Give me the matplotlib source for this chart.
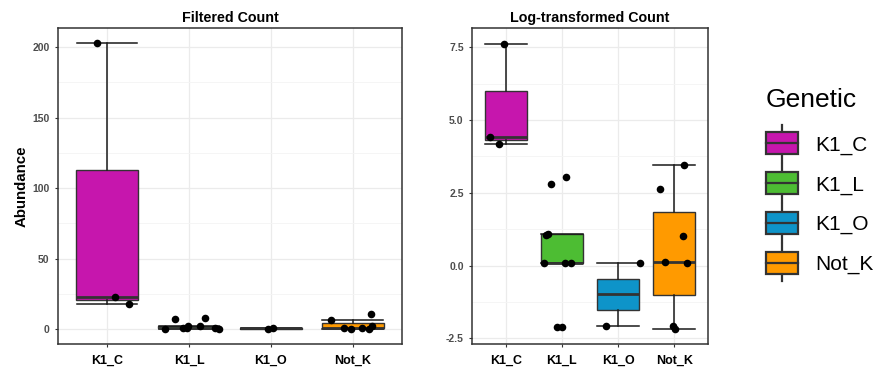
import numpy as np
import matplotlib.pyplot as plt
from matplotlib.patches import Rectangle
from matplotlib.lines import Line2D
from matplotlib.legend_handler import HandlerBase

plt.rcParams['font.family'] = ['Liberation Sans', 'DejaVu Sans']

groups = ['K1_C', 'K1_L', 'K1_O', 'Not_K']
colors = ['#C616AD', '#4DBD33', '#0E94C9', '#FF9A00']

# raw (filtered) abundance per group
raw_counts = {
    'K1_C': [203.0, 22.5, 18.2],
    'K1_L': [0.23, 0.23, 1.05, 1.05, 1.07, 2.07, 2.14, 7.0, 8.2],
    'K1_O': [0.23, 1.07],
    'Not_K': [0.22, 0.23, 1.06, 1.09, 2.04, 6.2, 11.0],
}
# log2 values per group
log_counts = {
    'K1_C': [7.62, 4.42, 4.19],
    'K1_L': [-2.12, -2.12, 0.08, 0.08, 0.1, 1.05, 1.07, 2.81, 3.04],
    'K1_O': [-2.09, 0.1],
    'Not_K': [-2.18, -2.09, 0.09, 0.12, 1.03, 2.64, 3.46],
}
# horizontal jitter of each point (same order as values)
raw_jitter = {
    'K1_C': [-0.12, 0.10, 0.27],
    'K1_L': [-0.29, 0.37, 0.32, -0.07, -0.03, -0.01, 0.14, -0.17, 0.20],
    'K1_O': [-0.03, 0.03],
    'Not_K': [0.20, -0.02, -0.11, 0.11, 0.23, -0.27, 0.22],
}
log_jitter = {
    'K1_C': [-0.035, -0.28, -0.12],
    'K1_L': [-0.09, 0.0, 0.05, 0.17, -0.32, -0.28, -0.25, -0.19, 0.08],
    'K1_O': [-0.22, 0.39],
    'Not_K': [0.02, -0.03, 0.22, -0.16, 0.15, -0.26, 0.17],
}

EDGE = '#333333'


def draw_panel(ax, values, jitter, title, ylim, yticks, yminor):
    pos = np.arange(len(groups))
    data = [values[g] for g in groups]
    bp = ax.boxplot(data, positions=pos, widths=0.75, patch_artist=True,
                    showfliers=False, whis=1.5, zorder=2,
                    boxprops=dict(edgecolor=EDGE, linewidth=1.0),
                    whiskerprops=dict(color='#1a1a1a', linewidth=1.1),
                    capprops=dict(color='#1a1a1a', linewidth=1.1),
                    medianprops=dict(color=EDGE, linewidth=2.0))
    for patch, c in zip(bp['boxes'], colors):
        patch.set_facecolor(c)
    # errorbar-style caps as wide as the box
    for i, cap in enumerate(bp['caps']):
        x0 = pos[i // 2]
        cap.set_xdata([x0 - 0.37, x0 + 0.37])
    for i, g in enumerate(groups):
        ax.scatter(i + np.array(jitter[g]), values[g], s=30, color='black',
                   zorder=4, linewidths=0)
    ax.set_xlim(-0.6, 3.6)
    ax.set_ylim(*ylim)
    ax.set_xticks(pos)
    ax.set_xticklabels(groups, fontsize=9, fontweight='bold', color='black')
    ax.set_yticks(yticks)
    ax.set_yticks(yminor, minor=True)
    ax.tick_params(axis='y', which='major', labelsize=7.5, labelcolor='#4D4D4D',
                   length=2.5, color='#333333', width=0.8)
    ax.tick_params(axis='y', which='minor', length=0)
    ax.tick_params(axis='x', length=2.5, color='#333333', width=0.8, pad=5)
    for lab in ax.get_yticklabels():
        lab.set_fontweight('bold')
    ax.grid(True, which='major', color='#EBEBEB', linewidth=0.9, zorder=0)
    ax.grid(True, which='minor', axis='y', color='#F4F4F4', linewidth=0.6, zorder=0)
    ax.set_axisbelow(True)
    for sp in ax.spines.values():
        sp.set_color(EDGE)
        sp.set_linewidth(1.1)
    ax.set_title(title, fontsize=10.3, fontweight='bold', pad=4)


fig = plt.figure(figsize=(8.77, 3.70), dpi=100)
ax1 = fig.add_axes([0.0661, 0.0703, 0.3922, 0.854])
ax2 = fig.add_axes([0.5382, 0.0703, 0.2691, 0.854])

draw_panel(ax1, raw_counts, raw_jitter, 'Filtered Count', (-10.5, 213.5),
           [0, 50, 100, 150, 200], [25, 75, 125, 175])
ax1.set_ylabel('Abundance', fontsize=10.8, fontweight='bold', labelpad=3)

draw_panel(ax2, log_counts, log_jitter, 'Log-transformed Count', (-2.7, 8.17),
           [-2.5, 0.0, 2.5, 5.0, 7.5], [-1.25, 1.25, 3.75, 6.25])
ax2.set_yticklabels(['-2.5', '0.0', '2.5', '5.0', '7.5'], fontweight='bold')


class BoxKeyHandler(HandlerBase):
    def create_artists(self, legend, orig_handle, xdescent, ydescent,
                       width, height, fontsize, trans):
        c = orig_handle.get_facecolor()
        cx = width / 2 - xdescent
        bh = height * 1.25
        by = (height - bh) / 2 - ydescent
        wl = Line2D([cx, cx], [by - height * 0.45, by + bh + height * 0.45],
                    color=EDGE, linewidth=1.6, transform=trans)
        box = Rectangle((-xdescent, by), width, bh, facecolor=c,
                        edgecolor=EDGE, linewidth=1.6, transform=trans)
        med = Line2D([-xdescent, width - xdescent], [by + bh / 2, by + bh / 2],
                     color=EDGE, linewidth=1.6, transform=trans)
        return [wl, box, med]


handles = [Rectangle((0, 0), 1, 1, facecolor=c) for c in colors]
leg = fig.legend(handles, groups, loc='center left', bbox_to_anchor=(0.852, 0.51),
                 frameon=False, fontsize=15, title='Genetic', title_fontsize=19,
                 handler_map={Rectangle: BoxKeyHandler()},
                 handlelength=1.55, handleheight=0.9, handletextpad=0.8,
                 labelspacing=0.95, alignment='left')
leg._legend_box.sep = 16

fig.savefig('out.png', dpi=100)
